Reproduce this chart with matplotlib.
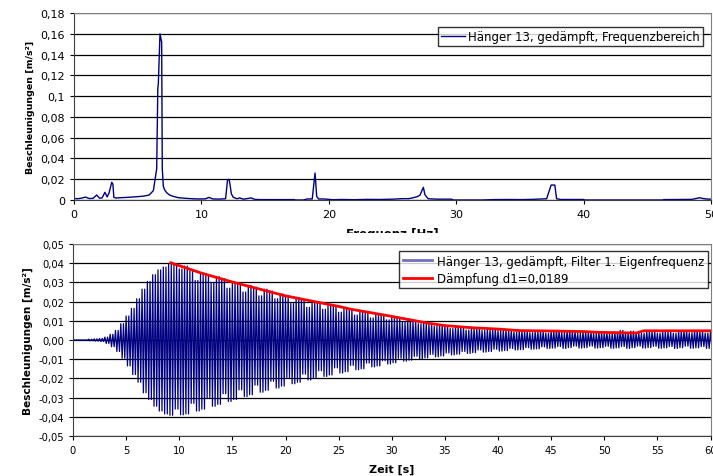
import numpy as np
import matplotlib.pyplot as plt
from matplotlib.lines import Line2D
from matplotlib.patches import Rectangle
from matplotlib.ticker import FuncFormatter

# Frequenzbereich (oben)
freq = [0, 0.3, 0.6, 0.9, 1.2, 1.5, 1.78, 2.0, 2.2, 2.43, 2.6, 2.75, 2.96, 3.05, 3.13, 3.3,
        3.6, 4.0, 4.5, 5.0, 5.5, 5.9, 6.23, 6.49, 6.58, 6.62, 6.75, 6.88, 6.93, 7.01, 7.1,
        7.27, 7.5, 7.79, 8.2, 8.8, 9.3, 9.8, 10.3, 10.6, 10.9, 11.4, 11.9, 12.05, 12.17,
        12.24, 12.35, 12.5, 12.8, 13.0, 13.3, 13.9, 14.2, 14.6, 15.5, 16.5, 17.3, 17.4,
        18.0, 18.3, 18.7, 18.92, 19.05, 19.2, 19.6, 20.3, 21.0, 22.0, 23.0, 24.0, 25.0,
        25.8, 26.3, 26.9, 27.15, 27.42, 27.55, 27.8, 28.5, 29.6, 29.8, 31.0, 32.0, 33.0,
        34.2, 35.0, 36.0, 37.1, 37.45, 37.55, 37.74, 37.88, 38.2, 39.0, 40.0, 40.1, 46.2,
        46.3, 47.5, 48.5, 48.9, 49.1, 49.3, 49.6, 50.0]
amp = [0.0015, 0.0012, 0.0018, 0.0028, 0.0014, 0.0016, 0.0048, 0.0018, 0.002, 0.0074, 0.003,
       0.0067, 0.017, 0.0155, 0.0025, 0.0019, 0.0022, 0.0024, 0.0028, 0.0032, 0.0038, 0.0048,
       0.009, 0.030, 0.108, 0.112, 0.160, 0.152, 0.030, 0.0133, 0.010, 0.0071, 0.0048,
       0.0035, 0.0022, 0.0016, 0.0012, 0.001, 0.0011, 0.0025, 0.001, 0.0009, 0.0012, 0.0192,
       0.0200, 0.0154, 0.006, 0.0026, 0.0012, 0.002, 0.0008, 0.002, 0.0006, 0.0004, 0.0004,
       0.0004, 0.0004, 0.0, 0.0, 0.001, 0.001, 0.026, 0.0035, 0.001, 0.001, 0.0003, 0.0005,
       0.0003, 0.0006, 0.0005, 0.0008, 0.0013, 0.0013, 0.003, 0.0045, 0.0122, 0.005, 0.0012,
       0.0008, 0.0008, 0.0, 0.0, 0.0, 0.0004, 0.0005, 0.0004, 0.0006, 0.0012, 0.0144, 0.0144,
       0.0144, 0.0012, 0.0005, 0.0005, 0.0005, 0.0, 0.0, 0.0004, 0.0005, 0.0006, 0.0016,
       0.0022, 0.0016, 0.001, 0.0008]

# Zeitbereich (unten): Spitzen alle 0,5 s
t_peak = np.arange(0, 60.5, 0.5)
upper = [0, 0, 0, 0.0004, 0.0006, 0.0008, 0.0015, 0.0030, 0.0050, 0.0085,
         0.0125, 0.0165, 0.0215, 0.0265, 0.0305, 0.0340, 0.0365, 0.0380, 0.0395, 0.0390,
         0.0370, 0.0385, 0.0365, 0.0310, 0.0345, 0.0340, 0.0300, 0.0330, 0.0320, 0.0270,
         0.0300, 0.0295, 0.0250, 0.0285, 0.0275, 0.0230, 0.0265, 0.0255, 0.0215, 0.0240,
         0.0230, 0.0190, 0.0220, 0.0210, 0.0170, 0.0200, 0.0195, 0.0160, 0.0180, 0.0178,
         0.0145, 0.0168, 0.0160, 0.0130, 0.0150, 0.0143, 0.0115, 0.0135, 0.0130, 0.0105,
         0.0120, 0.0115, 0.0095, 0.0108, 0.0102, 0.0085, 0.0092, 0.0085, 0.0072, 0.0080,
         0.0074, 0.0060, 0.0070, 0.0066, 0.0052, 0.0063, 0.0060, 0.0050, 0.0058, 0.0058,
         0.0050, 0.0054, 0.0050, 0.0042, 0.0048, 0.0046, 0.0038, 0.0045, 0.0044, 0.0036,
         0.0047, 0.0050, 0.0040, 0.0049, 0.0045, 0.0036, 0.0044, 0.0042, 0.0035, 0.0040,
         0.0038, 0.0033, 0.0042, 0.0050, 0.0040, 0.0046, 0.0038, 0.0035, 0.0046, 0.0044,
         0.0036, 0.0045, 0.0042, 0.0035, 0.0046, 0.0048, 0.0038, 0.0050, 0.0044, 0.0036,
         0.0047]
lower = [0, 0, 0, -0.0004, -0.0006, -0.0008, -0.0018, -0.0035, -0.0060, -0.0095,
         -0.0135, -0.0180, -0.0220, -0.0275, -0.0310, -0.0345, -0.0370, -0.0385, -0.0392, -0.0360,
         -0.0390, -0.0385, -0.0330, -0.0370, -0.0360, -0.0300, -0.0345, -0.0335, -0.0280, -0.0320,
         -0.0310, -0.0260, -0.0295, -0.0285, -0.0235, -0.0272, -0.0262, -0.0215, -0.0250, -0.0240,
         -0.0195, -0.0228, -0.0220, -0.0178, -0.0208, -0.0200, -0.0160, -0.0190, -0.0182, -0.0145,
         -0.0172, -0.0165, -0.0132, -0.0155, -0.0150, -0.0120, -0.0140, -0.0135, -0.0108, -0.0125,
         -0.0118, -0.0095, -0.0110, -0.0105, -0.0085, -0.0098, -0.0093, -0.0075, -0.0088, -0.0083,
         -0.0068, -0.0078, -0.0074, -0.0060, -0.0070, -0.0066, -0.0052, -0.0063, -0.0060, -0.0048,
         -0.0058, -0.0055, -0.0044, -0.0052, -0.0050, -0.0040, -0.0048, -0.0046, -0.0036, -0.0044,
         -0.0042, -0.0034, -0.0044, -0.0040, -0.0032, -0.0042, -0.0040, -0.0032, -0.0042, -0.0040,
         -0.0033, -0.0043, -0.0041, -0.0034, -0.0044, -0.0040, -0.0032, -0.0042, -0.0040, -0.0033,
         -0.0043, -0.0041, -0.0034, -0.0044, -0.0040, -0.0032, -0.0043, -0.0041, -0.0034, -0.0044,
         -0.0040]

# Dämpfungskurve
t_daempf = [9.2, 12, 15, 20, 25, 26.1, 30, 33.5, 35, 37.5, 40, 42, 45, 48, 49.5, 53, 53.7, 60]
a_daempf = [0.0402, 0.035, 0.0302, 0.023, 0.0175, 0.0161, 0.0123, 0.0087, 0.0075, 0.0064,
            0.0057, 0.0049, 0.0047, 0.0044, 0.0040, 0.0036, 0.0048, 0.0048]

plt.rcParams['font.family'] = 'DejaVu Sans'

fig = plt.figure(figsize=(7.13, 4.77), dpi=100)
W, H = 713, 477
ax1 = fig.add_axes([74 / W, 1 - 201 / H, (711 - 74) / W, (201 - 14) / H])
ax2 = fig.add_axes([73 / W, 1 - 437 / H, (710.5 - 73) / W, (437 - 245) / H])
ax2.set_zorder(2)

navy = '#000080'

def style(ax, fs):
    ax.grid(axis='y', color='black', linewidth=0.9)
    ax.set_axisbelow(True)
    for s in ['top', 'right']:
        ax.spines[s].set_color('#808080')
    for s in ['left', 'bottom']:
        ax.spines[s].set_color('#404040')
    ax.tick_params(direction='out', length=3, width=0.8, labelsize=fs, colors='black')

# oben
ax1.plot(freq, amp, color=navy, linewidth=1)
ax1.set_xlim(0, 50)
ax1.set_ylim(0, 0.18)
ax1.set_xticks(range(0, 51, 10))
ax1.set_yticks(np.arange(0, 0.181, 0.02))
ax1.yaxis.set_major_formatter(FuncFormatter(lambda v, p: f"{round(v, 2):g}".replace('.', ',')))
style(ax1, 8)
ax1.set_ylabel('Beschleunigungen [m/s²]', fontsize=6.8, fontweight='bold', labelpad=4)
ax1.legend([Line2D([], [], color=navy, linewidth=1)],
           ['Hänger 13, gedämpft, Frequenzbereich'],
           loc='upper right', bbox_to_anchor=(0.9874, 0.925), borderaxespad=0,
           fontsize=8.5, frameon=True, fancybox=False, edgecolor='black',
           handlelength=2.0, borderpad=0.25, handletextpad=0.3)

# halb verdeckte Achsenbeschriftung
fig.text(392 / W, 1 - 228 / H, 'Frequenz [Hz]', ha='center', va='top',
         fontsize=8.5, fontweight='bold', zorder=0.5)
fig.add_artist(Rectangle((0, 0), 1, 1 - 234 / H, transform=fig.transFigure,
                         facecolor='white', edgecolor='none', zorder=1))

# unten: jede Spitze als zwei Schwingungen gezeichnet
x_sig = np.ravel(np.column_stack([t_peak, t_peak + 0.125, t_peak + 0.25, t_peak + 0.375]))
y_sig = np.ravel(np.column_stack([upper, lower, upper, lower]))
ax2.plot(x_sig, y_sig, color=navy, linewidth=0.9)
ax2.plot(t_daempf, a_daempf, color='red', linewidth=2)
ax2.set_xlim(0, 60)
ax2.set_ylim(-0.05, 0.05)
ax2.set_xticks(range(0, 61, 5))
ax2.set_yticks(np.arange(-0.05, 0.051, 0.01))
ax2.yaxis.set_major_formatter(FuncFormatter(lambda v, p: f"{round(v, 2) + 0:.2f}".replace('.', ',')))
style(ax2, 7.2)
ax2.set_ylabel('Beschleunigungen [m/s²]', fontsize=7.6, fontweight='bold', labelpad=4)
ax2.set_xlabel('Zeit [s]', fontsize=8, fontweight='bold', labelpad=6)
ax2.legend([Line2D([], [], color='#7070c0', linewidth=2), Line2D([], [], color='red', linewidth=2)],
           ['Hänger 13, gedämpft, Filter 1. Eigenfrequenz', 'Dämpfung d1=0,0189'],
           loc='upper right', bbox_to_anchor=(0.996, 0.9635), borderaxespad=0,
           fontsize=8.5, frameon=True, fancybox=False, edgecolor='black',
           handlelength=2.5, borderpad=0.3, handletextpad=0.4, labelspacing=0.35)

fig.savefig('out.png', dpi=100)
